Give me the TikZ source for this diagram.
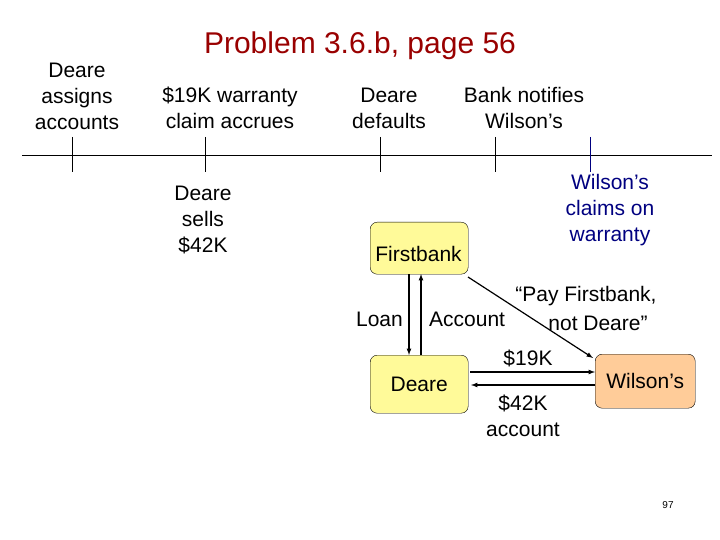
\documentclass[tikz,border=0pt]{standalone}
\usepackage{fontspec}
\setmainfont{Liberation Sans}
\begin{document}
\begin{tikzpicture}[x=1pt,y=-1pt,
  lbl/.style={font=\fontsize{21}{26}\selectfont,align=center,inner sep=0pt},
  ybox/.style={draw,rounded corners=7pt,fill=yellow!40,minimum width=98pt,minimum height=54pt,font=\fontsize{21}{26}\selectfont},
  arr/.style={->,>=latex,line width=1.2pt}]
\useasboundingbox (0,0) rectangle (720,540);
\node[lbl,text=red!60!black,font=\fontsize{30}{34}\selectfont] (title) at (360,46) {Problem 3.6.b, page 56};
\draw[line width=0.9pt] (22,155) -- (712,155);
\foreach \x/\n in {72/t1,205/t2,380/t3,495/t4}{\draw[line width=0.9pt] (\x,137) -- (\x,172);}
\draw[blue!50!black,line width=0.9pt] (590,137) -- (590,172);
\node[lbl] (a1) at (77,96) {Deare\\assigns\\accounts};
\node[lbl] (a2) at (230,108) {\$19K warranty\\claim accrues};
\node[lbl] (a3) at (389,108) {Deare\\defaults};
\node[lbl] (a4) at (524,108) {Bank notifies\\Wilson’s};
\node[lbl] (b2) at (203,220) {Deare\\sells\\\$42K};
\node[lbl,text=blue!50!black] (b5) at (610,210) {Wilson’s\\claims on\\warranty};
\node[ybox,minimum height=52pt,anchor=north west] (fb) at (370,222) {};
\node[lbl,anchor=south] (fbl) at (418.5,262) {Firstbank};
\node[ybox,minimum height=58pt,anchor=north west] (de) at (370,355) {Deare};
\node[ybox,fill=orange!40,minimum width=100pt,anchor=north west] (wi) at (595,354) {Wilson’s};
\draw[arr] (409,274) -- (409,355);
\draw[arr] (421,355) -- (421,274);
\node[lbl,anchor=east] (loan) at (403,319) {Loan};
\node[lbl,anchor=west] (acc) at (429,319) {Account};
\draw[arr] (468,277) -- (593,358);
\node[lbl] (pay) at (586,296) {“Pay Firstbank,};
\node[lbl] (nd) at (598,323) {not Deare”};
\draw[arr] (470,372) -- (595,372);
\draw[arr] (595,385) -- (471,385);
\node[lbl] (k19) at (528,358) {\$19K};
\node[lbl] (k42) at (523,416) {\$42K\\account};
\node[font=\fontsize{10}{12}\selectfont] (pg) at (668,505) {97};
\end{tikzpicture}
\end{document}
